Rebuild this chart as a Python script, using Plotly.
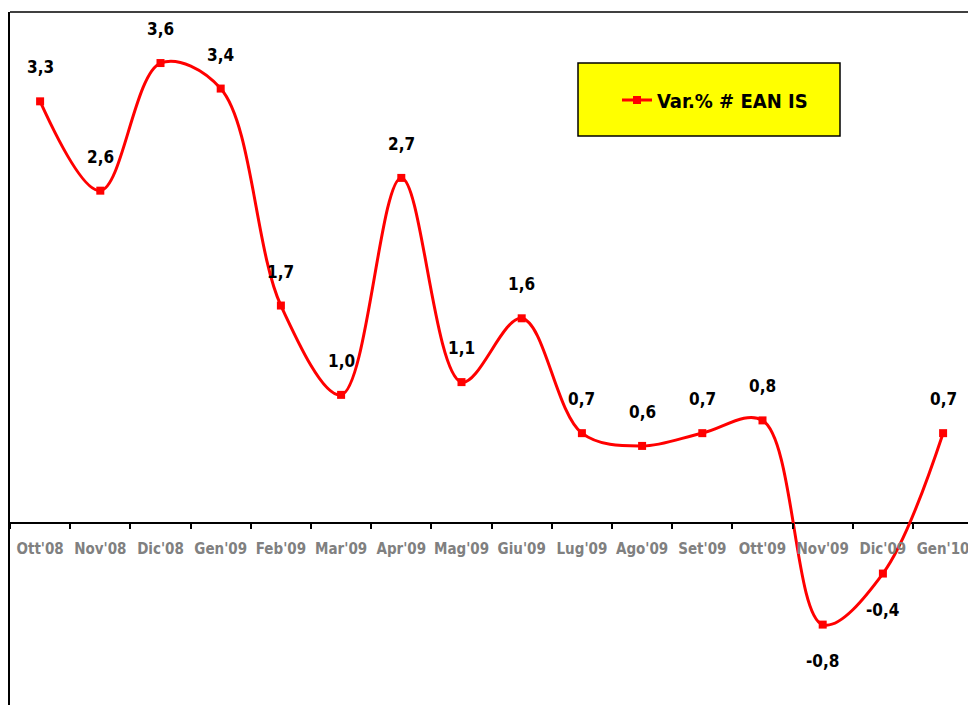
import plotly.graph_objects as go

# Monthly percentage change of EAN codes (IS channel)
months = ["Ott'08", "Nov'08", "Dic'08", "Gen'09", "Feb'09", "Mar'09", "Apr'09", "Mag'09",
          "Giu'09", "Lug'09", "Ago'09", "Set'09", "Ott'09", "Nov'09", "Dic'09", "Gen'10"]
var_pct = [3.3, 2.6, 3.6, 3.4, 1.7, 1.0, 2.7, 1.1, 1.6, 0.7, 0.6, 0.7, 0.8, -0.8, -0.4, 0.7]
series_name = "Var.% # EAN IS"

FONT = "DejaVu Sans Condensed, Liberation Sans Narrow, Arial Narrow, sans-serif"
RED = "#FF0000"

W, H = 968, 705
ML, MT, MR, MB = 10, 12, 0, 0
plot_w = W - ML - MR
plot_h = H - MT - MB

y_min, y_max = -1.43, 4.0
cat_px = 60.2  # horizontal space per month
x_range = [-0.5, -0.5 + plot_w / cat_px]


def px_to_paper_x(px):
    return (px - ML) / plot_w


def px_to_paper_y(py):
    return 1 - (py - MT) / plot_h


fig = go.Figure()
fig.add_trace(go.Scatter(
    x=months, y=var_pct, name=series_name,
    mode="lines+markers",
    line=dict(color=RED, width=3, shape="spline", smoothing=1.0),
    marker=dict(symbol="square", size=8, color=RED),
    hoverinfo="x+y",
))

# value labels above positive points, below negative ones
for m, v in zip(months, var_pct):
    fig.add_annotation(
        x=m, y=v, text=f"{v:.1f}".replace(".", ","),
        showarrow=False, xanchor="center", yanchor="middle",
        yshift=34 if v >= 0 else -36,
        font=dict(family=FONT, size=17, color="black", weight="bold"),
    )

# legend frame
fig.add_shape(
    type="rect", xref="paper", yref="paper",
    x0=px_to_paper_x(578), x1=px_to_paper_x(840),
    y0=px_to_paper_y(136), y1=px_to_paper_y(63),
    fillcolor="#FFFF00", line=dict(color="black", width=1.5), layer="below",
)
# chart frame top edge
fig.add_shape(
    type="line", xref="paper", yref="paper",
    x0=0, x1=1, y0=1, y1=1, line=dict(color="black", width=1.5),
)

zero_pos = (0 - y_min) / (y_max - y_min)

fig.update_layout(
    width=W, height=H,
    margin=dict(l=ML, r=MR, t=MT, b=MB, pad=0, autoexpand=False),
    paper_bgcolor="white", plot_bgcolor="white",
    showlegend=True,
    legend=dict(
        x=px_to_paper_x(617), y=px_to_paper_y(100),
        xanchor="left", yanchor="middle",
        bgcolor="rgba(0,0,0,0)", borderwidth=0,
        font=dict(family=FONT, size=20, color="black", weight="bold"),
    ),
    xaxis=dict(
        type="category", range=x_range,
        anchor="free", position=zero_pos, automargin=False,
        showline=False, showgrid=False, zeroline=False,
        ticks="outside", tickson="boundaries", ticklen=6, tickwidth=1.5, tickcolor="black",
        ticklabelstandoff=16, tickangle=0,
        tickfont=dict(family=FONT, size=15, color="#808080", weight="bold"),
    ),
    yaxis=dict(
        range=[y_min, y_max], automargin=False,
        showline=True, linecolor="black", linewidth=1.5,
        showgrid=False, showticklabels=False, ticks="",
        zeroline=True, zerolinecolor="black", zerolinewidth=1.5,
    ),
)

fig.write_html("out.html")
